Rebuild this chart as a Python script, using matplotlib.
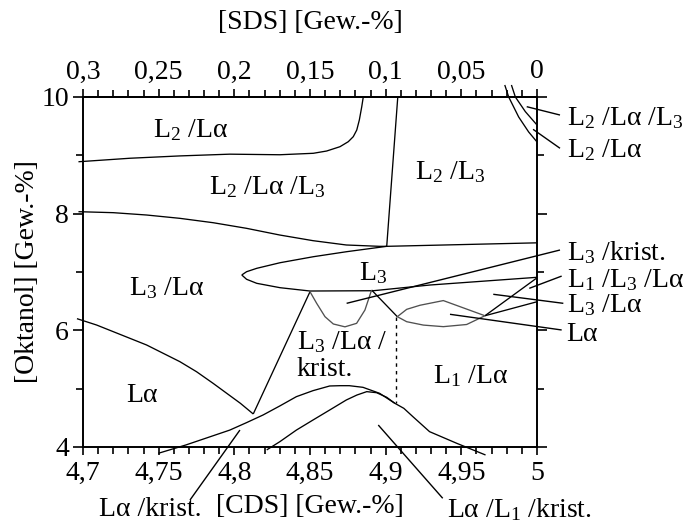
import matplotlib
matplotlib.use("Agg")
import matplotlib.pyplot as plt
from matplotlib.ticker import MultipleLocator, FixedLocator

plt.rcParams['font.family'] = ['Liberation Serif', 'DejaVu Serif']
plt.rcParams['mathtext.fontset'] = 'custom'
plt.rcParams['mathtext.rm'] = 'Liberation Serif'
plt.rcParams['mathtext.it'] = 'Liberation Serif:italic'
plt.rcParams['mathtext.bf'] = 'Liberation Serif:bold'

FS = 20

# ---------------- data (CDS wt-%, Oktanol wt-%) ----------------
# L2/La upper boundary
b_L2La_x = [4.697, 4.731, 4.764, 4.797, 4.830, 4.8522, 4.8610, 4.8698, 4.8753, 4.8786, 4.8809, 4.8826, 4.8842, 4.8852]
b_L2La_y = [8.89, 8.95, 8.99, 9.02, 9.01, 9.035, 9.074, 9.148, 9.234, 9.32, 9.434, 9.606, 9.834, 10.0]
# L2/La/L3 lower boundary continuing as L2/L3 lower line
b_L2LaL3_x = [4.697, 4.720, 4.742, 4.764, 4.786, 4.808, 4.830, 4.852, 4.874, 4.896, 4.9007, 5.0]
b_L2LaL3_y = [8.034, 8.017, 7.977, 7.92, 7.845, 7.749, 7.634, 7.537, 7.463, 7.44, 7.44, 7.50]
# L2/L3 left boundary (nearly vertical)
b_L2L3_x = [4.908, 4.9007]
b_L2L3_y = [10.0, 7.44]
# top-right corner boundaries
b_tr1_x = [4.9787, 4.9813, 4.9879, 4.9945, 5.0]
b_tr1_y = [10.206, 10.0, 9.657, 9.40, 9.23]
b_tr2_x = [4.9831, 4.9857, 4.9923, 5.0]
b_tr2_y = [10.206, 10.0, 9.749, 9.52]
# L3 lens: upper and lower edges
L3_up_x = [4.8049, 4.8081, 4.8148, 4.8302, 4.8522, 4.8742, 4.9007]
L3_up_y = [6.949, 7.005, 7.063, 7.159, 7.262, 7.348, 7.44]
L3_lo_x = [4.8049, 4.8081, 4.8148, 4.8302, 4.8500, 4.8918, 4.9293, 5.0]
L3_lo_y = [6.949, 6.875, 6.806, 6.731, 6.674, 6.679, 6.777, 6.909]
# L3/La/krist. upper boundary (grey dip)
dip_x = [4.8500, 4.8544, 4.8599, 4.8654, 4.8731, 4.8808, 4.8863, 4.8907]
dip_y = [6.662, 6.463, 6.234, 6.109, 6.060, 6.12, 6.348, 6.691]
# line from dip peak to La lens
peak_link_x = [4.8907, 4.9077]
peak_link_y = [6.691, 6.234]
# La lens (small)
La_up_x = [4.9077, 4.9139, 4.9227, 4.9381, 4.9656]
La_up_y = [6.234, 6.36, 6.43, 6.51, 6.25]
La_lo_x = [4.9077, 4.9139, 4.9249, 4.9381, 4.9535, 4.9656]
La_lo_y = [6.234, 6.148, 6.09, 6.063, 6.10, 6.25]
# lines from lens right tip to right border
tipA_x = [4.9656, 5.0]
tipA_y = [6.25, 6.90]
tipB_x = [4.9656, 5.0]
tipB_y = [6.25, 6.49]
# La upper boundary
La_bnd_x = [4.696, 4.709, 4.720, 4.731, 4.742, 4.753, 4.764, 4.775, 4.786, 4.795, 4.804, 4.8125]
La_bnd_y = [6.20, 6.091, 5.977, 5.863, 5.749, 5.606, 5.463, 5.291, 5.091, 4.92, 4.749, 4.566]
# line from La vertex up to dip
vert_x = [4.8125, 4.8500]
vert_y = [4.566, 6.662]
# outer hump (La/krist.)
humpA_x = [4.7498, 4.768, 4.797, 4.808, 4.819, 4.830, 4.841, 4.852, 4.863, 4.8698, 4.876,
           4.885, 4.896, 4.906, 4.912, 4.918, 4.929, 4.947, 4.966]
humpA_y = [3.892, 4.035, 4.29, 4.417, 4.549, 4.703, 4.863, 4.966, 5.046, 5.051, 5.051,
           5.023, 4.92, 4.75, 4.663, 4.52, 4.263, 4.063, 3.863]
# inner hump (La/L1/krist.)
humpB_x = [4.8214, 4.830, 4.841, 4.852, 4.863, 4.874, 4.881, 4.8875, 4.894, 4.9007, 4.906]
humpB_y = [3.95, 4.09, 4.29, 4.463, 4.634, 4.806, 4.891, 4.949, 4.931, 4.852, 4.75]
# dotted line
dot_x = [4.907, 4.907]
dot_y = [6.234, 4.75]

# region labels inside
region_labels = [r'L$_2$ /Lα', r'L$_2$ /Lα /L$_3$', r'L$_2$ /L$_3$', r'L$_3$ /Lα',
                 r'L$_3$', 'Lα', r'L$_1$ /Lα']
region_x = [4.771, 4.822, 4.9425, 4.755, 4.892, 4.739, 4.956]
region_y = [9.43, 8.46, 8.71, 6.73, 6.98, 4.89, 5.21]
krist_label_lines = [r'L$_3$ /Lα /', 'krist.']
krist_label_x = [4.8412, 4.8412]
krist_label_y = [5.80, 5.32]

# outside labels with pointer lines
out_labels = [r'L$_2$ /Lα /L$_3$', r'L$_2$ /Lα', r'L$_3$ /krist.', r'L$_1$ /L$_3$ /Lα',
              r'L$_3$ /Lα', 'Lα']
out_label_x = [5.0195, 5.0195, 5.0195, 5.0195, 5.0195, 5.0195]
out_label_y = [9.64, 9.09, 7.33, 6.86, 6.43, 5.93]
ptr_from_x = [4.9932, 4.9974, 4.8742, 4.9949, 4.9711, 4.9425]
ptr_from_y = [9.834, 9.446, 6.463, 6.72, 6.618, 6.275]
ptr_to_x = [5.0152, 5.0152, 5.0152, 5.0163, 5.0174, 5.0163]
ptr_to_y = [9.691, 9.121, 7.377, 6.93, 6.463, 6.006]

bottom_labels = ['Lα /krist.', r'Lα /L$_1$ /krist.']
bottom_label_x = [4.7443, 4.9405]
bottom_label_y = [2.93, 2.93]
bptr_from_x = [4.8037, 4.8951]
bptr_from_y = [4.291, 4.377]
bptr_to_x = [4.7707, 4.9377]
bptr_to_y = [3.091, 3.121]

x_ticks = [4.7, 4.75, 4.8, 4.85, 4.9, 4.95, 5.0]
x_ticklabels = ['4,7', '4,75', '4,8', '4,85', '4,9', '4,95', '5']
sds_ticks = [0.3, 0.25, 0.2, 0.15, 0.1, 0.05, 0.0]
sds_ticklabels = ['0,3', '0,25', '0,2', '0,15', '0,1', '0,05', '0']
y_ticks = [4, 6, 8, 10]
y_ticklabels = ['4', '6', '8', '10']

# ---------------- plot ----------------
fig = plt.figure(figsize=(6.88, 5.24), dpi=100)
ax = fig.add_axes([83/688, 1-447/524, 454/688, 350/524])
ax.set_xlim(4.7, 5.0)
ax.set_ylim(4, 10)

LW = 0.95
K = 'black'
G = '#505050'

def line(xs, ys, color=K, lw=LW, **kw):
    ax.plot(xs, ys, color=color, lw=lw, clip_on=False, solid_capstyle='butt',
            solid_joinstyle='round', **kw)

for xs, ys in [(b_L2La_x, b_L2La_y), (b_L2LaL3_x, b_L2LaL3_y), (b_L2L3_x, b_L2L3_y),
               (b_tr1_x, b_tr1_y), (b_tr2_x, b_tr2_y), (L3_up_x, L3_up_y), (L3_lo_x, L3_lo_y),
               (peak_link_x, peak_link_y), (tipA_x, tipA_y), (tipB_x, tipB_y),
               (La_bnd_x, La_bnd_y), (vert_x, vert_y), (humpA_x, humpA_y), (humpB_x, humpB_y)]:
    line(xs, ys)
line(dip_x, dip_y, color=G)
line(La_up_x, La_up_y, color=G)
line(La_lo_x, La_lo_y, color=G)
ax.plot(dot_x, dot_y, color=K, lw=1.0, ls=(0, (2.5, 3)))

for t, x, y in zip(region_labels, region_x, region_y):
    ax.text(x, y, t, fontsize=FS, ha='center', va='center')
for t, x, y in zip(krist_label_lines, krist_label_x, krist_label_y):
    ax.text(x, y, t, fontsize=FS, ha='left', va='center')

for fx, fy, tx, ty in zip(ptr_from_x, ptr_from_y, ptr_to_x, ptr_to_y):
    line([fx, tx], [fy, ty], lw=1.0)
for t, x, y in zip(out_labels, out_label_x, out_label_y):
    ax.text(x, y, t, fontsize=FS, ha='left', va='center', clip_on=False)

for fx, fy, tx, ty in zip(bptr_from_x, bptr_from_y, bptr_to_x, bptr_to_y):
    line([fx, tx], [fy, ty], lw=1.0)
ax.text(bottom_label_x[0], bottom_label_y[0], bottom_labels[0], fontsize=FS, ha='center', va='center')
ax.text(bottom_label_x[1], bottom_label_y[1], bottom_labels[1], fontsize=FS, ha='left', va='center')

# axes styling
for s in ax.spines.values():
    s.set_linewidth(1.4)
ax.set_xticks(x_ticks)
ax.set_xticklabels(x_ticklabels, fontsize=FS)
ax.xaxis.set_minor_locator(MultipleLocator(0.01))
ax.set_yticks(y_ticks)
ax.set_yticklabels(y_ticklabels, fontsize=FS)
ax.yaxis.set_minor_locator(FixedLocator([5, 7, 9]))
ax.tick_params(which='both', direction='out', width=1.2, right=True, top=False, pad=3)
ax.tick_params(which='major', length=7)
ax.tick_params(which='minor', length=5)
ax.tick_params(axis='x', which='major', length=6, pad=4)

ax.set_xlabel('[CDS] [Gew.-%]', fontsize=FS, labelpad=6)
ax.set_ylabel('[Oktanol] [Gew.-%]', fontsize=FS, labelpad=1)

sec = ax.secondary_xaxis('top', functions=(lambda x: 5 - x, lambda x: 5 - x))
sec.set_xticks(sds_ticks)
sec.set_xticklabels(sds_ticklabels, fontsize=FS)
sec.xaxis.set_minor_locator(MultipleLocator(0.01))
sec.tick_params(which='both', direction='out', width=1.2, pad=3)
sec.tick_params(which='major', length=6)
sec.tick_params(which='minor', length=5)
sec.set_xlabel('[SDS] [Gew.-%]', fontsize=FS, labelpad=22)
sec.spines['top'].set_linewidth(1.4)

fig.savefig('out.png', dpi=100)
